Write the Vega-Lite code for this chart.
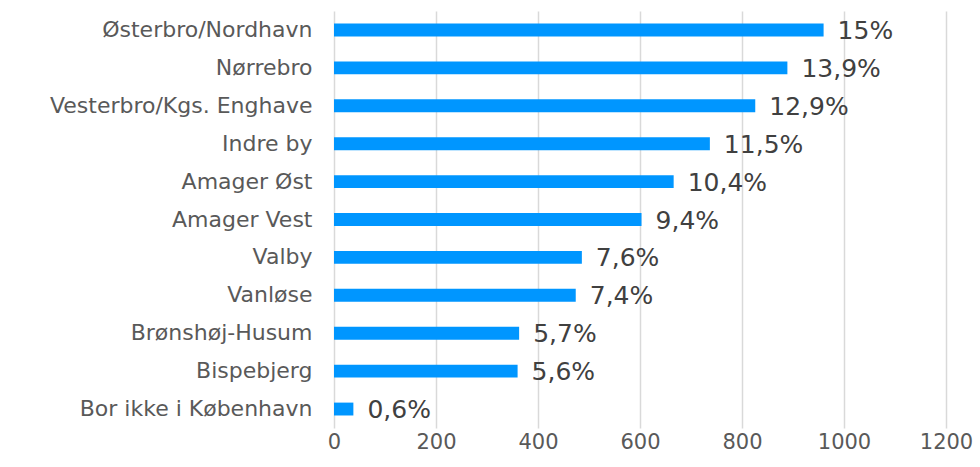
{
  "$schema": "https://vega.github.io/schema/vega-lite/v6.json",
  "width": 612,
  "height": 417,
  "autosize": {"type": "none"},
  "padding": {"left": 334, "top": 11, "right": 34, "bottom": 39},
  "background": "white",
  "config": {
    "view": {"stroke": null},
    "font": "DejaVu Sans"
  },
  "data": {
    "values": [
      {"omrade": "Østerbro/Nordhavn", "antal": 960, "pct": "15%"},
      {"omrade": "Nørrebro", "antal": 889, "pct": "13,9%"},
      {"omrade": "Vesterbro/Kgs. Enghave\u2006", "antal": 826, "pct": "12,9%"},
      {"omrade": "Indre by\u2006", "antal": 737, "pct": "11,5%"},
      {"omrade": "Amager Øst", "antal": 666, "pct": "10,4%"},
      {"omrade": "Amager Vest", "antal": 603, "pct": "9,4%"},
      {"omrade": "Valby", "antal": 486, "pct": "7,6%"},
      {"omrade": "Vanløse", "antal": 474, "pct": "7,4%"},
      {"omrade": "Brønshøj-Husum", "antal": 363, "pct": "5,7%"},
      {"omrade": "Bispebjerg", "antal": 360, "pct": "5,6%"},
      {"omrade": "Bor ikke i København", "antal": 38, "pct": "0,6%"}
    ]
  },
  "encoding": {
    "y": {
      "field": "omrade",
      "type": "nominal",
      "sort": null,
      "scale": {"paddingInner": 0.66, "paddingOuter": 0.33},
      "axis": {
        "title": null,
        "ticks": false,
        "domain": false,
        "labelFontSize": 22,
        "labelColor": "#595959",
        "labelPadding": 22,
        "labelLimit": 400
      }
    },
    "x": {
      "field": "antal",
      "type": "quantitative",
      "scale": {"domain": [0, 1200], "nice": false},
      "axis": {
        "title": null,
        "values": [0, 200, 400, 600, 800, 1000, 1200],
        "format": "d",
        "ticks": false,
        "domain": false,
        "grid": true,
        "gridColor": "#d9d9d9",
        "gridWidth": 1.5,
        "labelFontSize": 21,
        "labelColor": "#595959",
        "labelPadding": 3,
        "labelFlush": false
      }
    }
  },
  "layer": [
    {"mark": {"type": "bar", "color": "#0096ff"}},
    {
      "mark": {"type": "text", "align": "left", "baseline": "middle", "dx": 14, "dy": 1, "fontSize": 25, "color": "#404040"},
      "encoding": {"text": {"field": "pct"}}
    }
  ]
}
